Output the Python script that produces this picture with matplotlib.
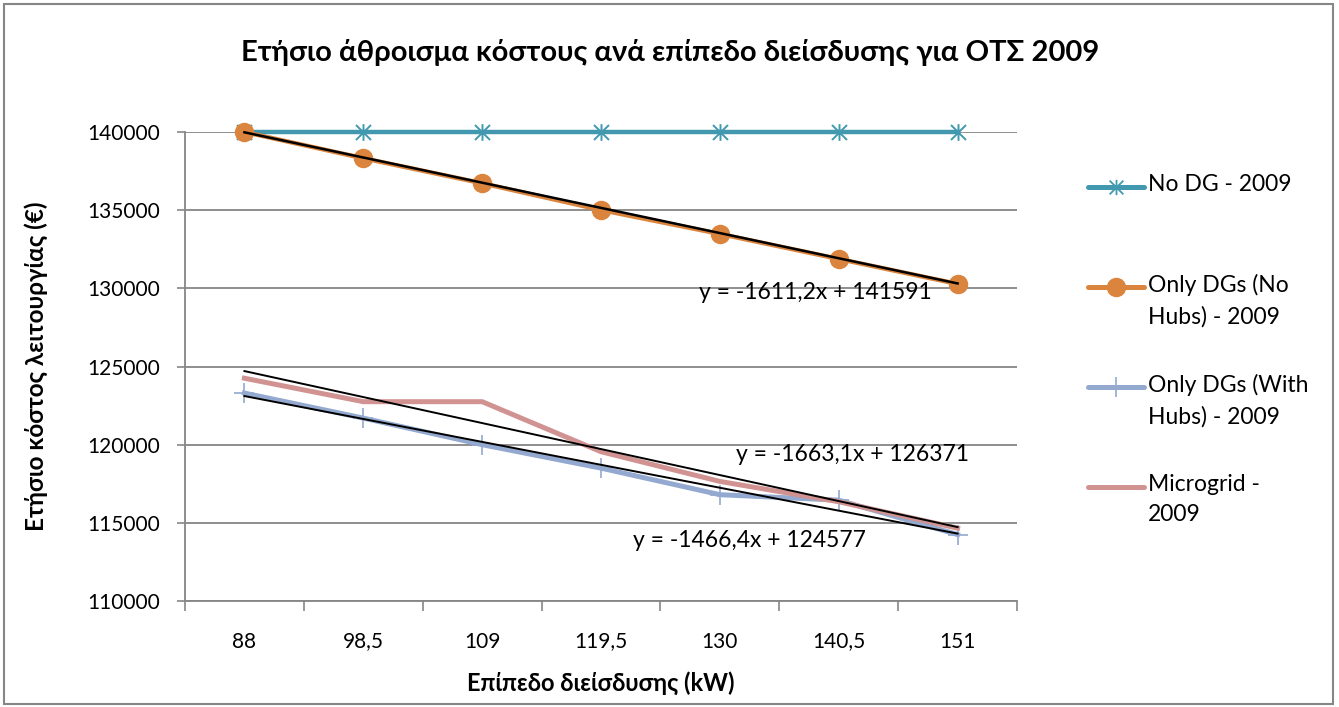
import matplotlib
matplotlib.use("Agg")
import matplotlib.pyplot as plt
from matplotlib.lines import Line2D
from matplotlib.patches import Rectangle
from matplotlib.path import Path
import numpy as np

plt.rcParams['font.family'] = ['Lato', 'DejaVu Sans']

# penetration levels (kW) and annual operating cost (€)
levels = ['88', '98,5', '109', '119,5', '130', '140,5', '151']
no_dg = [140000, 140000, 140000, 140000, 140000, 140000, 140000]
dg_no_hubs = [140000, 138320, 136720, 135010, 133480, 131880, 130280]
dg_with_hubs = [123300, 121700, 120000, 118500, 116800, 116450, 114250]
microgrid = [124250, 122750, 122750, 119550, 117650, 116350, 114660]

# linear trendlines (slope, intercept) as reported by the spreadsheet
trend_no_hubs = (-1611.2, 141591)
trend_microgrid = (-1663.1, 126371)
trend_with_hubs = (-1466.4, 124577)

names = ['No DG - 2009', 'Only DGs (No\nHubs) - 2009',
         'Only DGs (With\nHubs) - 2009', 'Microgrid -\n2009']
colors = ['#4198AF', '#DB843D', '#93A9CF', '#D19392']

# spreadsheet-style asterisk: an X with a vertical stroke
M, L = Path.MOVETO, Path.LINETO
asterisk = Path([(0, -1), (0, 1), (-0.9, -0.9), (0.9, 0.9), (-0.9, 0.9), (0.9, -0.9)],
                [M, L, M, L, M, L])

W, H = 1339, 707
fig = plt.figure(figsize=(W / 100, H / 100), dpi=100)
ax = fig.add_axes([185 / W, 1 - 601 / H, (1017 - 185) / W, (601 - 132) / H])

x = np.arange(len(levels))
ax.plot(x, no_dg, color=colors[0], lw=3.2, marker=asterisk, ms=12,
        mew=1.4, mec=colors[0], mfc='none', zorder=3, clip_on=False)
ax.plot(x, dg_no_hubs, color=colors[1], lw=3.2, marker='o', ms=13,
        mfc=colors[1], mec=colors[1], zorder=3, clip_on=False)
ax.plot(x, dg_with_hubs, color=colors[2], lw=3.6, marker='+', ms=14,
        mew=1.2, mec=colors[2], zorder=3, clip_on=False)
ax.plot(x, microgrid, color=colors[3], lw=3.6, zorder=3, clip_on=False)

tx = np.array([x[0], x[-1]])
for (k, b), lw in [(trend_no_hubs, 1.8), (trend_microgrid, 1.4), (trend_with_hubs, 1.4)]:
    ax.plot(tx, k * (tx + 1) + b, color='black', lw=lw, zorder=4, clip_on=False)

ax.text(5.78, 129750, 'y = -1611,2x + 141591', fontsize=16.5, ha='right', va='center', zorder=5)
ax.text(6.1, 119350, 'y = -1663,1x + 126371', fontsize=16.5, ha='right', va='center', zorder=5)
ax.text(5.23, 113900, 'y = -1466,4x + 124577', fontsize=16.5, ha='right', va='center', zorder=5)

ax.set_xlim(-0.5, len(levels) - 0.5)
ax.set_ylim(110000, 140000)
ax.set_yticks(np.arange(110000, 140001, 5000))
ax.set_xticks(x)
ax.set_xticklabels(levels)
ax.set_xticks(np.arange(-0.5, len(levels)), minor=True)
ax.tick_params(axis='x', which='major', length=0, pad=22, labelsize=15)
ax.tick_params(axis='x', which='minor', length=7, color='#868686', width=1.2)
ax.tick_params(axis='y', length=6, color='#868686', width=1.2, pad=12, labelsize=15)
ax.grid(axis='y', color='#868686', lw=1.3)
ax.set_axisbelow(True)
for s in ['top', 'right']:
    ax.spines[s].set_visible(False)
for s in ['left', 'bottom']:
    ax.spines[s].set_color('#868686')
    ax.spines[s].set_linewidth(1.3)

ax.set_xlabel('Επίπεδο διείσδυσης (kW)', fontsize=17, fontweight='bold', labelpad=14)
ax.set_ylabel('Ετήσιο κόστος λειτουργίας (€)', fontsize=17.5, fontweight='bold', labelpad=28)
fig.text(670 / W, 1 - 52 / H, 'Ετήσιο άθροισμα κόστους ανά επίπεδο διείσδυσης για ΟΤΣ 2009',
         fontsize=21, fontweight='bold', ha='center', va='center')

# legend entries on the right
markers = [dict(marker=asterisk, ms=11, mew=1.3, mfc='none'),
           dict(marker='o', ms=13),
           dict(marker='|', ms=14, mew=1.2),
           dict(marker=None)]
for i, (name, c, m) in enumerate(zip(names, colors, markers)):
    yy = 1 - (187 + 100 * i) / H
    m.setdefault('mfc', c)
    fig.add_artist(Line2D([1088 / W, 1116 / W, 1144 / W], [yy, yy, yy], color=c, lw=3.6,
                          solid_capstyle='round', mec=c,
                          markevery=[1], transform=fig.transFigure, **m))
    fig.text(1148 / W, yy + 13 / H, name, fontsize=16.5, ha='left', va='top', linespacing=1.55)

fig.add_artist(Rectangle((4 / W, 3 / H), (1333 - 4) / W, (703 - 3) / H, fill=False,
                         edgecolor='#868686', lw=1.5, transform=fig.transFigure))

fig.savefig('out.png', dpi=100)
